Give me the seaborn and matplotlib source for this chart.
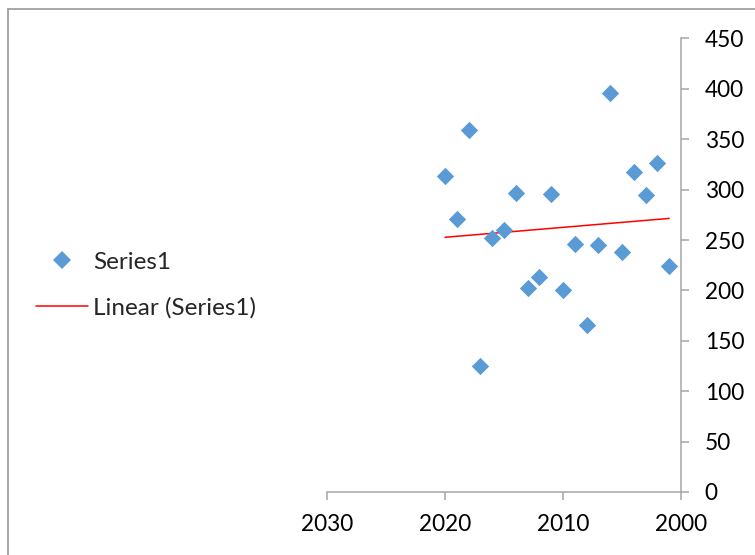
import numpy as np
import pandas as pd
import matplotlib
matplotlib.use("Agg")
import matplotlib.pyplot as plt
from matplotlib.lines import Line2D
import seaborn as sns

years = [2020, 2019, 2018, 2017, 2016, 2015, 2014, 2013, 2012, 2011,
         2010, 2009, 2008, 2007, 2006, 2005, 2004, 2003, 2002, 2001]
values = [313.6, 271, 359, 125, 251.7, 259.6, 296.7, 202.3, 213, 296,
          200.6, 246, 166.2, 245, 396, 238.4, 317.6, 294.4, 326.2, 223.9]
x_ticks = [2030, 2020, 2010, 2000]
y_ticks = [0, 50, 100, 150, 200, 250, 300, 350, 400, 450]
series_name = "Series1"
trend_name = "Linear (Series1)"

df = pd.DataFrame({"year": years, "value": values})

sns.set_theme(style="white")
plt.rcParams["font.family"] = ["Lato", "DejaVu Sans"]

W, H = 755, 555
fig = plt.figure(figsize=(W / 100, H / 100), dpi=100)
ax = fig.add_axes([327 / W, 1 - 492 / H, (681 - 327) / W, (492 - 38.5) / H])

sns.scatterplot(data=df, x="year", y="value", marker="D", s=78,
                color="#5B9BD5", linewidth=0, ax=ax, zorder=3)
sns.regplot(data=df, x="year", y="value", scatter=False, ci=None,
            line_kws=dict(color="#FF0000", lw=1.1), ax=ax)

ax.set_xlim(2030, 2000)
ax.set_ylim(0, 450)
ax.set_xticks(x_ticks)
ax.set_yticks(y_ticks)
ax.set_xlabel("")
ax.set_ylabel("")
ax.yaxis.tick_right()

gray = "#A6A6A6"
for s in ["top", "left"]:
    ax.spines[s].set_visible(False)
for s in ["right", "bottom"]:
    ax.spines[s].set_visible(True)
    ax.spines[s].set_color(gray)
    ax.spines[s].set_linewidth(1.1)
ax.tick_params(axis="both", which="both", direction="out", length=6,
               width=1.1, color=gray, labelsize=16.3, labelcolor="black")
ax.tick_params(axis="y", pad=11, right=True, left=False)
ax.tick_params(axis="x", pad=10, bottom=True)
ax.grid(False)

handles = [
    Line2D([], [], marker="D", linestyle="none", color="#5B9BD5",
           markersize=9.5, markeredgewidth=0),
    Line2D([], [], color="#FF0000", lw=1.1),
]
fig.legend(handles, [series_name, trend_name], loc="center left",
           bbox_to_anchor=(36 / W, 1 - 285 / H), frameon=False,
           fontsize=17.5, handlelength=2.14, handletextpad=0.2,
           labelspacing=0.98, borderpad=0, borderaxespad=0)

# chart-area border (partially visible in the reference)
fig.add_artist(Line2D([7.5 / W, 1], [1 - 9 / H, 1 - 9 / H], color="#A0A0A0",
                      lw=1.3, transform=fig.transFigure))
fig.add_artist(Line2D([7.5 / W, 7.5 / W], [0, 1 - 9 / H], color="#A0A0A0",
                      lw=1.3, transform=fig.transFigure))

fig.savefig("out.png", dpi=100)
